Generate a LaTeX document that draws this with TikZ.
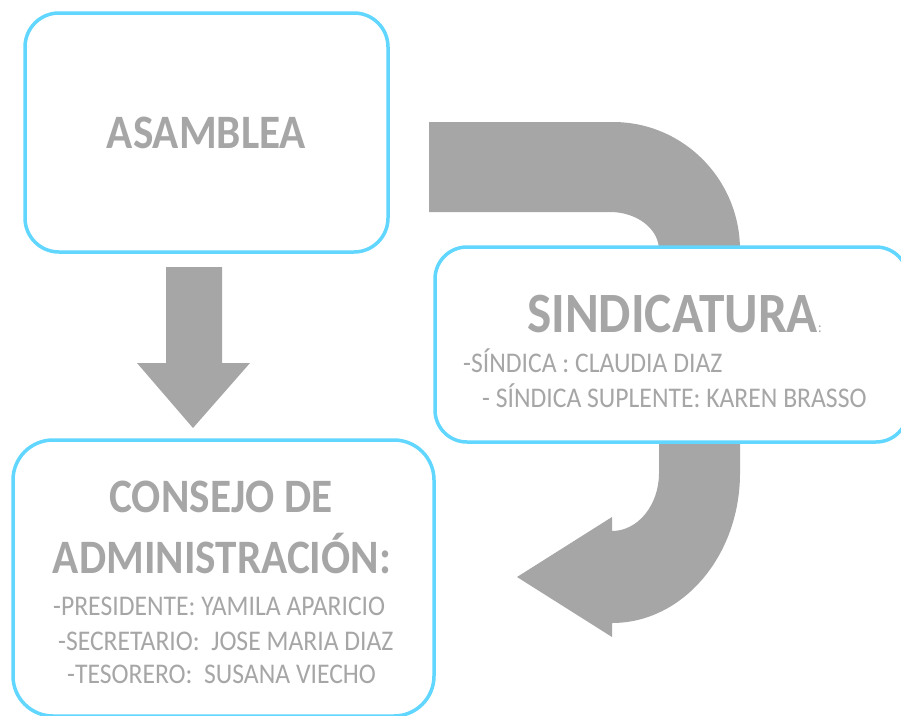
\documentclass[tikz,border=0pt]{standalone}
\usepackage{fontspec}
\setmainfont{Carlito}[FakeStretch=0.9]
\definecolor{boxblue}{RGB}{97,214,255}
\definecolor{textgray}{RGB}{166,166,166}
\tikzset{
  box/.style={draw=boxblue, fill=white, line width=3.5pt, inner sep=0pt},
  flow/.style={fill=textgray},
  title/.style={text=textgray, font=\bfseries\fontsize{48}{48}\selectfont, inner sep=0pt},
  member/.style={text=textgray, font=\fontsize{28.5}{28.5}\selectfont, inner sep=0pt, anchor=base west},
}
\begin{document}
\begin{tikzpicture}[x=1pt,y=-1pt]
  \useasboundingbox (0,0) rectangle (901,715);
  \clip (0,0) rectangle (901,715);
  % arrows first, the boxes cover them
  \fill[flow] (429,122) -- (613,122) arc[start angle=-90, end angle=0, x radius=127, y radius=128]
    -- (740,473) arc[start angle=0, end angle=90, x radius=128, y radius=150]
    -- (612,637) -- (517,577) -- (612,517) -- (612,531)
    arc[start angle=90, end angle=0, x radius=47, y radius=58]
    -- (659,250) arc[start angle=0, end angle=-90, x radius=49, y radius=38]
    -- (429,212) -- cycle;
  \fill[flow] (166,267) -- (222,267) -- (222,363) -- (250,363) -- (193,428)
    -- (137,363) -- (166,363) -- cycle;
  % boxes
  \node[box, title, rounded corners=34pt, minimum width=363pt, minimum height=239pt] (asamblea) at (206.5,132.5) {ASAMBLEA};
  \node[box, rounded corners=32pt, minimum width=473pt, minimum height=195pt] (sindicatura) at (671.5,344.5) {};
  \node[box, rounded corners=40pt, minimum width=421pt, minimum height=276pt] (consejo) at (223.5,578) {};
  % texts
  \node[title, font=\bfseries\fontsize{57}{57}\selectfont, anchor=base west] (sindtitle) at (527,332) {SINDICATURA{\mdseries\fontsize{15}{15}\selectfont:}};
  \node[member] (sindica) at (463,372) {-SÍNDICA : CLAUDIA DIAZ};
  \node[member] (suplente) at (482,407) {- SÍNDICA SUPLENTE: KAREN BRASSO};
  \node[title, anchor=base] (consejoa) at (221,512) {CONSEJO DE};
  \node[title, anchor=base] (consejob) at (222,573) {ADMINISTRACIÓN:};
  \node[member] (presidente) at (53,615) {-PRESIDENTE: YAMILA APARICIO};
  \node[member] (secretario) at (58,650) {-SECRETARIO:\ \ JOSE MARIA DIAZ};
  \node[member] (tesorero) at (67,683) {-TESORERO:\ \ SUSANA VIECHO};
\end{tikzpicture}
\end{document}
